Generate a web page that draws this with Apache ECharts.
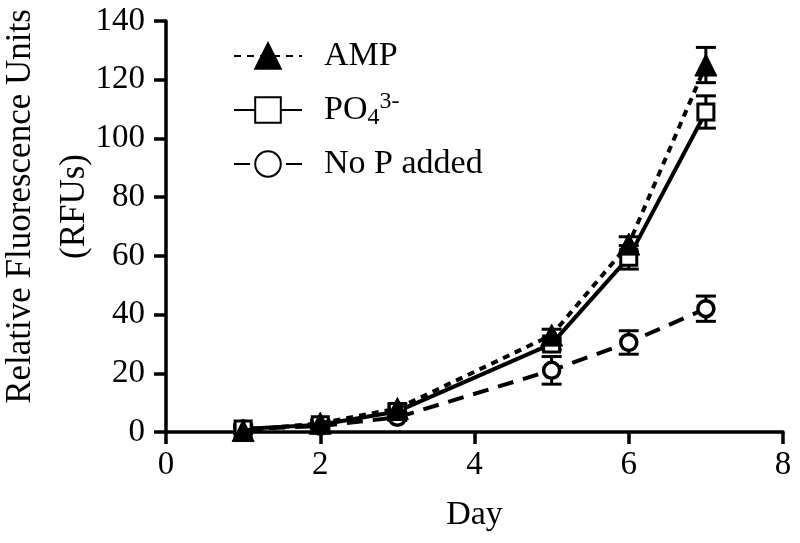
<!DOCTYPE html>
<html><head><meta charset="utf-8">
<script src="https://cdn.jsdelivr.net/npm/echarts@6/dist/echarts.min.js"></script>
<style>html,body{margin:0;padding:0;background:#fff}#c{width:800px;height:543px}</style>
</head><body><div id="c"></div>
<script>
const days = [1, 2, 3, 5, 6, 7];
const ampValues = [0.5, 3, 8, 33, 64, 125];
const ampErrors = [1, 1, 1.5, 2, 2.5, 6];
const po4Values = [1, 2.5, 7, 30, 59.5, 109];
const po4Errors = [1.5, 1.5, 1.5, 2, 4, 5.5];
const noPValues = [1, 2, 5, 21, 30.5, 42];
const noPErrors = [1, 1, 1, 4.7, 4, 4.3];
const xTicks = [0, 2, 4, 6, 8];
const yTicks = [0, 20, 40, 60, 80, 100, 120, 140];
const seriesNames = ['AMP', 'PO4', 'No P added'];

const font = 'Liberation Serif';
function pts(vals){ return days.map((d,i)=>[d, vals[i]]); }
function errData(vals, errs){ return days.map((d,i)=>[d, vals[i]-errs[i], vals[i]+errs[i]]); }
function errSeries(vals, errs, z){
  return {
    type: 'custom', z: z, silent: true,
    data: errData(vals, errs),
    renderItem: function(params, api){
      const x = api.value(0);
      const lo = api.coord([x, api.value(1)]);
      const hi = api.coord([x, api.value(2)]);
      const w = 10;
      const st = {stroke:'#000', lineWidth:3};
      return {type:'group', children:[
        {type:'line', shape:{x1:lo[0], y1:lo[1], x2:hi[0], y2:hi[1]}, style:st},
        {type:'line', shape:{x1:lo[0]-w, y1:lo[1], x2:lo[0]+w, y2:lo[1]}, style:st},
        {type:'line', shape:{x1:hi[0]-w, y1:hi[1], x2:hi[0]+w, y2:hi[1]}, style:st}
      ]};
    }
  };
}

const chart = echarts.init(document.getElementById('c'));
chart.setOption({
  animation: false,
  backgroundColor: '#fff',
  grid: {left: 166, right: 17, top: 21, bottom: 111, containLabel: false, outerBoundsMode: 'none'},
  legend: {
    orient: 'vertical', left: 228, top: 31, itemGap: 14,
    itemWidth: 68, itemHeight: 32,
    data: seriesNames,
    textStyle: {fontFamily: font, fontSize: 34, color: '#000', padding:[0,0,0,17], lineHeight: 40,
      rich: {
        n: {fontFamily: font, fontSize: 34, color:'#000', lineHeight: 40, verticalAlign: 'middle'},
        sub: {fontFamily: font, fontSize: 24, color:'#000', lineHeight: 24, verticalAlign:'bottom'},
        sup: {fontFamily: font, fontSize: 24, color:'#000', lineHeight: 24, verticalAlign:'top'}
      }},
    formatter: function(n){
      if (n === 'PO4') return '{n|PO}{sub|4}{sup|3-}';
      return n;
    }
  },
  xAxis: {
    type: 'value', min: 0, max: 8, interval: 2,
    name: 'Day', nameLocation: 'middle', nameGap: 66, nameMoveOverlap: false,
    nameTextStyle: {fontFamily: font, fontSize: 34, color: '#000'},
    axisLine: {lineStyle: {color: '#000', width: 3.5}},
    axisTick: {show: true, length: 12, lineStyle: {color:'#000', width: 3.5}},
    axisLabel: {fontFamily: font, fontSize: 33, color: '#000', margin: 17},
    splitLine: {show: false}
  },
  yAxis: {
    type: 'value', min: 0, max: 140, interval: 20,
    name: 'Relative Fluorescence Units\n(RFUs)', nameLocation: 'middle', nameGap: 64, nameMoveOverlap: false,
    nameTextStyle: {fontFamily: font, fontSize: 35, color: '#000', lineHeight: 54, padding: [0, 0, 0, 40]},
    axisLine: {lineStyle: {color: '#000', width: 3.5}},
    axisTick: {show: true, length: 12, lineStyle: {color:'#000', width: 3.5}},
    axisLabel: {fontFamily: font, fontSize: 33, color: '#000', margin: 21},
    splitLine: {show: false}
  },
  series: [
    errSeries(noPValues, noPErrors, 1),
    errSeries(po4Values, po4Errors, 2),
    errSeries(ampValues, ampErrors, 3),
    {
      name: 'No P added', type: 'line', z: 4, data: pts(noPValues),
      symbol: 'circle', symbolSize: 16,
      lineStyle: {color:'#000', width: 4, type: [16, 10]},
      itemStyle: {color:'#fff', borderColor:'#000', borderWidth: 3.5}
    },
    {
      name: 'PO4', type: 'line', z: 5, data: pts(po4Values),
      symbol: 'rect', symbolSize: 16,
      lineStyle: {color:'#000', width: 4, type: 'solid'},
      itemStyle: {color:'#fff', borderColor:'#000', borderWidth: 3}
    },
    {
      name: 'AMP', type: 'line', z: 6, data: pts(ampValues),
      symbol: 'triangle', symbolSize: 22,
      lineStyle: {color:'#000', width: 4, type: [7, 6]},
      itemStyle: {color:'#000', borderColor:'#000', borderWidth: 1}
    }
  ]
});
</script></body></html>
